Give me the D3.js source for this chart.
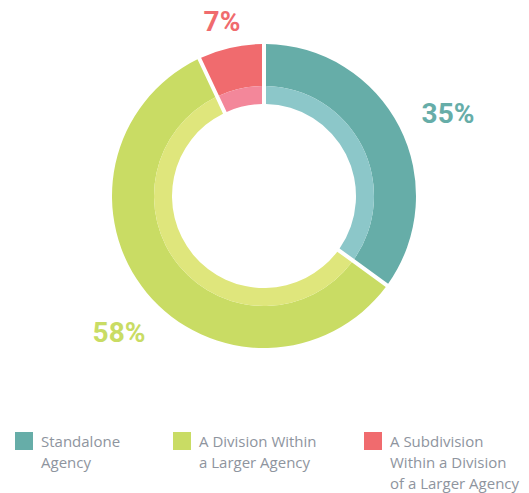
<!DOCTYPE html>
<html>
<head>
<meta charset="utf-8">
<script src="https://cdn.jsdelivr.net/npm/d3@7"></script>
<style>
  body { margin: 0; background: #fff; }
  svg { display: block; }
</style>
</head>
<body>
<svg id="chart" width="529" height="493"></svg>
<script>
var categories = ["Standalone Agency", "A Division Within a Larger Agency", "A Subdivision Within a Division of a Larger Agency"];
var values = [35, 58, 7];
var labels = ["35%", "58%", "7%"];
var legendLines = [["Standalone", "Agency"], ["A Division Within", "a Larger Agency"], ["A Subdivision", "Within a Division", "of a Larger Agency"]];
var colors = ["#66ada8", "#c9dc64", "#f06b6e"];
var lightColors = ["#8cc7c9", "#dfe67c", "#f3879a"];

var CX = 264, CY = 196;
var OUTER = 152, MID = 110, INNER = 92;

var svg = d3.select("#chart");
var g = svg.append("g").attr("transform", "translate(" + CX + "," + CY + ")");

var pie = d3.pie().sort(null).value(function(d) { return d; });
var arcs = pie(values);

var outerArc = d3.arc().innerRadius(MID).outerRadius(OUTER).padAngle(0.02).padRadius(200);
var innerArc = d3.arc().innerRadius(INNER).outerRadius(MID).padAngle(0.02).padRadius(200);

g.selectAll("path.outer")
  .data(arcs)
  .enter().append("path")
  .attr("class", "outer")
  .attr("d", outerArc)
  .attr("fill", function(d, i) { return colors[i]; });

g.selectAll("path.inner")
  .data(arcs)
  .enter().append("path")
  .attr("class", "inner")
  .attr("d", innerArc)
  .attr("fill", function(d, i) { return lightColors[i]; });

// percent labels, placed outside the ring
var labelPos = [[448, 123], [119, 342], [222, 31]];
svg.selectAll("text.pct")
  .data(labels)
  .enter().append("text")
  .attr("class", "pct")
  .attr("x", function(d, i) { return labelPos[i][0]; })
  .attr("y", function(d, i) { return labelPos[i][1]; })
  .attr("text-anchor", "middle")
  .attr("font-family", "Roboto, sans-serif")
  .attr("font-weight", "bold")
  .attr("font-size", "28px")
  .attr("fill", function(d, i) { return colors[i]; })
  .text(function(d) { return d; });

// legend
var legendX = [15, 173, 364];
var legend = svg.selectAll("g.legend")
  .data(categories)
  .enter().append("g")
  .attr("class", "legend")
  .attr("transform", function(d, i) { return "translate(" + legendX[i] + ",432)"; });

legend.append("rect")
  .attr("width", 18)
  .attr("height", 18)
  .attr("fill", function(d, i) { return colors[i]; });

legend.each(function(d, i) {
  var t = d3.select(this).append("text")
    .attr("font-family", "'Open Sans', sans-serif")
    .attr("font-size", "15px")
    .attr("fill", "#8e949e");
  legendLines[i].forEach(function(line, j) {
    t.append("tspan").attr("x", 26).attr("y", 15 + j * 21).text(line);
  });
});
</script>
</body>
</html>
